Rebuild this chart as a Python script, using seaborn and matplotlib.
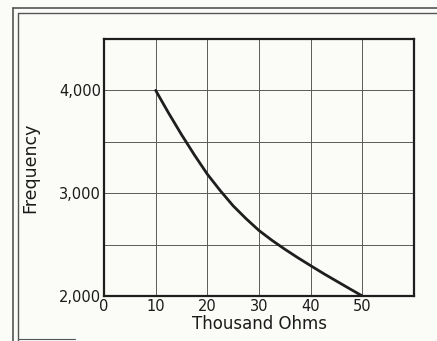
import matplotlib
matplotlib.use("Agg")
import matplotlib.pyplot as plt
import seaborn as sns
import pandas as pd
from matplotlib.lines import Line2D

ohms = [10, 12.5, 15, 17.5, 20, 22.5, 25, 27.5, 30, 32.5, 35, 37.5, 40, 42.5, 45, 47.5, 50]
freq = [4000, 3780, 3570, 3372, 3185, 3025, 2877, 2752, 2637, 2542, 2455, 2373,
        2295, 2218, 2145, 2072, 2000]
x_ticks = [0, 10, 20, 30, 40, 50]
y_ticks = [2000, 3000, 4000]
y_tick_labels = ["2,000", "3,000", "4,000"]

sns.set_theme(style="white")
plt.rcParams["font.family"] = ["DejaVu Sans"]

fig = plt.figure(figsize=(4.37, 3.41), dpi=100)
fig.patch.set_facecolor("#fbfbf8")
ax = fig.add_axes([104/437, 1 - 296/341, (414-104)/437, (296-39)/341])
ax.set_facecolor("#fbfbf8")

df = pd.DataFrame({"ohms": ohms, "freq": freq})
sns.lineplot(data=df, x="ohms", y="freq", ax=ax, color="#1e1e1e", linewidth=2.0)

ax.set_xlim(0, 60)
ax.set_ylim(2000, 4500)
ax.set_xticks(range(0, 61, 10))
ax.set_xticklabels([str(v) if v in x_ticks else "" for v in range(0, 61, 10)])
ax.set_yticks(range(2000, 4501, 500))
ax.set_yticklabels([y_tick_labels[y_ticks.index(v)] if v in y_ticks else "" for v in range(2000, 4501, 500)])
ax.grid(True, color="#5a5a5a", linewidth=0.7)
ax.tick_params(axis="both", length=0, labelsize=10.5, colors="#1a1a1a", pad=2)
for s in ax.spines.values():
    s.set_color("#1e1e1e")
    s.set_linewidth(1.6)
ax.set_xlabel("Thousand Ohms", fontsize=12, color="#1a1a1a", labelpad=1)
ax.set_ylabel("Frequency", fontsize=12.5, color="#1a1a1a", labelpad=14)

# scanned page frame
for (x0, y0, x1, y1, lw) in [
    (13, 8, 437, 8, 1.2), (18, 13, 437, 13, 1.0),
    (13, 8, 13, 341, 1.2), (18, 13, 18, 341, 1.0),
    (18, 339, 75, 339, 0.8),
]:
    fig.add_artist(Line2D([x0/437, x1/437], [1 - y0/341, 1 - y1/341],
                          color="#555555", linewidth=lw, transform=fig.transFigure))

fig.savefig("out.png", dpi=100, facecolor=fig.get_facecolor())
